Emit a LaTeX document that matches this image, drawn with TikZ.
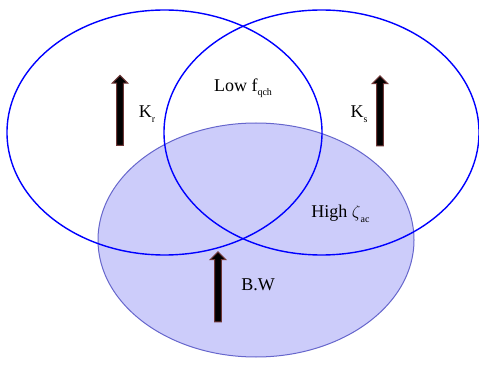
\documentclass[tikz,border=0pt]{standalone}
\usepackage{fontspec}
\setmainfont{Liberation Serif}
\usetikzlibrary{shapes.geometric,shapes.arrows,positioning}
\definecolor{bwfill}{RGB}{204,204,250}
\definecolor{bwedge}{RGB}{102,102,204}
\definecolor{arrowrim}{RGB}{110,55,55}
\newcommand\lowsub[1]{\raisebox{-4.5pt}{\fontsize{10}{10}\selectfont #1}}
\tikzset{
  setring/.style={ellipse,draw=blue,line width=1.4pt,minimum width=315pt,minimum height=245pt,inner sep=0pt},
  bwring/.style={ellipse,draw=bwedge,fill=bwfill,line width=1pt,minimum width=316pt,minimum height=234pt,inner sep=0pt},
  uparrow/.style={single arrow,rotate=90,fill=black,draw=arrowrim,line width=1pt,
    minimum height=70pt,minimum width=15pt,single arrow head extend=4.5pt,inner sep=2.8pt,
    single arrow tip angle=90},
  lbl/.style={font=\fontsize{18}{20}\selectfont,inner sep=1pt}
}
\begin{document}
\begin{tikzpicture}[x=1pt,y=-1pt]
  \useasboundingbox (0,0) rectangle (479,366);
  % shaded set first, rings on top
  \node[bwring] (bw) at (256,240) {};
  \node[setring] (kr) at (164.5,132.5) {};
  \node[setring] (ks) at (321.5,132.5) {};
  % arrows
  \node[uparrow] (arrkr) at (120,112) {};
  \node[uparrow] (arrks) at (380,112.5) {};
  \node[uparrow] (arrbw) at (218,288.5) {};
  % labels
  \node[lbl] (lkr) at (147,114) {K\lowsub{r}};
  \node[lbl] (lks) at (359,114) {K\lowsub{s}};
  \node[lbl] (lfq) at (243,88) {Low f\lowsub{qch}};
  \node[lbl] (lzeta) at (340.5,214) {High $\zeta$\lowsub{ac}};
  \node[lbl] (lbw) at (258,285) {B.W};
\end{tikzpicture}
\end{document}
